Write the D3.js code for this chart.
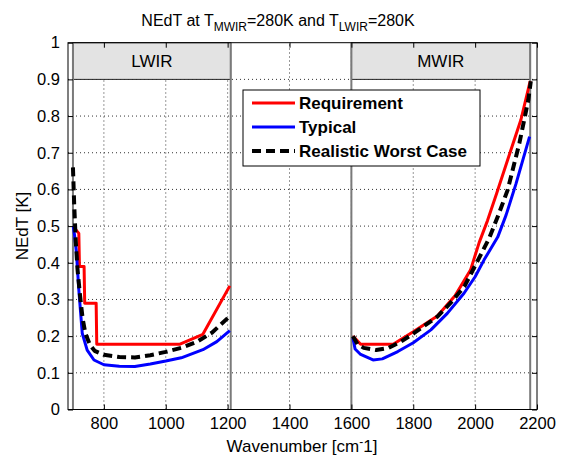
<!DOCTYPE html>
<html>
<head>
<script src="https://cdn.jsdelivr.net/npm/d3@7"></script>
<style>
body { margin: 0; background: #fff; }
text { font-family: Arial, "Liberation Sans", sans-serif; fill: #000; }
.grid line { stroke: #333; stroke-width: 1; stroke-dasharray: 1,3; }
</style>
</head>
<body>
<svg width="565" height="459"></svg>
<script>

// band limits (cm-1)
var bands = [
	{name: "LWIR", x0: 700, x1: 1210},
	{name: "MWIR", x0: 1600, x1: 2178}
];

var xTicks = [800, 1000, 1200, 1400, 1600, 1800, 2000, 2200];
var yTicks = [0, 0.1, 0.2, 0.3, 0.4, 0.5, 0.6, 0.7, 0.8, 0.9, 1];

// Requirement
var reqLW = [[700,0.50],[719,0.48],[721,0.39],[736,0.39],[738,0.29],[775,0.29],[777,0.178],[1046,0.178],[1120,0.205],[1207,0.337]];
var reqMW = [[1605,0.20],[1630,0.178],[1735,0.178],[1800,0.212],[1878,0.255],[1935,0.31],[1985,0.38],[2013,0.455],[2040,0.515],[2070,0.59],[2105,0.68],[2148,0.79],[2178,0.895]];

// Typical
var typLW = [[701,0.50],[706,0.47],[711,0.43],[719,0.326],[730,0.208],[746,0.162],[768,0.135],[800,0.122],[850,0.118],[900,0.117],[950,0.124],[1000,0.132],[1050,0.141],[1120,0.163],[1165,0.185],[1207,0.215]];
var typMW = [[1605,0.195],[1612,0.165],[1630,0.15],[1670,0.135],[1700,0.138],[1750,0.158],[1800,0.182],[1857,0.217],[1910,0.262],[1964,0.317],[2000,0.362],[2029,0.408],[2073,0.47],[2100,0.53],[2132,0.615],[2176,0.744]];

// Realistic Worst Case
var rwcLW = [[700,0.66],[704,0.56],[709,0.46],[715,0.38],[723,0.31],[731,0.25],[740,0.208],[755,0.176],[770,0.16],[800,0.149],[850,0.143],[900,0.142],[950,0.148],[1000,0.157],[1050,0.168],[1100,0.184],[1150,0.21],[1205,0.253]];
var rwcMW = [[1605,0.20],[1620,0.178],[1640,0.168],[1680,0.162],[1720,0.168],[1760,0.185],[1802,0.208],[1878,0.253],[1920,0.29],[1965,0.335],[2008,0.405],[2046,0.468],[2075,0.53],[2105,0.598],[2143,0.726],[2172,0.844],[2180,0.895]];

var series = [
	{name: "Requirement", color: "#ff0000", dash: null, width: 3, parts: [reqLW, reqMW]},
	{name: "Typical", color: "#0000ff", dash: null, width: 3, parts: [typLW, typMW]},
	{name: "Realistic Worst Case", color: "#000", dash: "9,5", width: 4, parts: [rwcLW, rwcMW]}
];

var svg = d3.select("svg");
var pLeft = 68, pRight = 537, pTop = 42.7, pBottom = 409.5;

var x = d3.scaleLinear().domain([684, 2200]).range([pLeft, pRight]);
var y = d3.scaleLinear().domain([0, 1]).range([pBottom, pTop]);

// grid
var grid = svg.append("g").attr("class", "grid");
grid.selectAll(".gx")
	.data(xTicks.filter(function(d) { return d < 2200; }))
	.enter().append("line")
	.attr("x1", function(d) { return x(d); })
	.attr("x2", function(d) { return x(d); })
	.attr("y1", pBottom).attr("y2", pTop);
grid.selectAll(".gy")
	.data(yTicks.filter(function(d) { return d > 0 && d < 1; }))
	.enter().append("line")
	.attr("x1", pLeft).attr("x2", pRight)
	.attr("y1", function(d) { return y(d); })
	.attr("y2", function(d) { return y(d); });

// band headers and edges
svg.selectAll(".band")
	.data(bands)
	.enter().append("rect")
	.attr("x", function(d) { return x(d.x0); })
	.attr("y", y(1))
	.attr("width", function(d) { return x(d.x1) - x(d.x0); })
	.attr("height", y(0.9) - y(1))
	.attr("fill", "#e3e3e3")
	.attr("stroke", "#222")
	.attr("stroke-width", 1);

svg.selectAll(".bandText")
	.data(bands)
	.enter().append("text")
	.attr("x", function(d) { return x((d.x0 + d.x1) / 2); })
	.attr("y", 67)
	.attr("text-anchor", "middle")
	.attr("font-size", "17px")
	.text(function(d) { return d.name; });

var edges = [];
bands.forEach(function(b) { edges.push(b.x0, b.x1); });
svg.selectAll(".edge")
	.data(edges)
	.enter().append("line")
	.attr("x1", function(d) { return x(d); })
	.attr("x2", function(d) { return x(d); })
	.attr("y1", pBottom).attr("y2", pTop)
	.attr("stroke", "#7a7a7a")
	.attr("stroke-width", 2);

// curves
var line = d3.line()
	.x(function(d) { return x(d[0]); })
	.y(function(d) { return y(d[1]); });

series.forEach(function(s) {
	s.parts.forEach(function(p) {
		svg.append("path")
			.attr("d", line(p))
			.attr("fill", "none")
			.attr("stroke", s.color)
			.attr("stroke-width", s.width)
			.attr("stroke-dasharray", s.dash)
			.attr("stroke-linejoin", "round");
	});
});

// axes box
svg.append("rect")
	.attr("x", pLeft).attr("y", pTop)
	.attr("width", pRight - pLeft).attr("height", pBottom - pTop)
	.attr("fill", "none").attr("stroke", "#000").attr("stroke-width", 1);

svg.append("g").attr("transform", "translate(0," + pBottom + ")")
	.call(d3.axisBottom(x).tickValues(xTicks).tickSizeInner(-5).tickSizeOuter(0).tickPadding(8)
		.tickFormat(d3.format("d")));
svg.append("g").attr("transform", "translate(" + pLeft + ",0)")
	.call(d3.axisLeft(y).tickValues(yTicks).tickSizeInner(-5).tickSizeOuter(0).tickPadding(8)
		.tickFormat(function(d) { return d === 0 || d === 1 ? d : d.toFixed(1); }));
svg.append("g").attr("transform", "translate(" + pRight + ",0)")
	.call(d3.axisRight(y).tickValues(yTicks).tickSizeInner(-5).tickSizeOuter(0).tickFormat(""));
svg.append("g").attr("transform", "translate(0," + pTop + ")")
	.call(d3.axisTop(x).tickValues(xTicks).tickSizeInner(-5).tickSizeOuter(0).tickFormat(""));

svg.selectAll(".domain").remove();
svg.selectAll(".tick text")
	.attr("font-family", "Arial, 'Liberation Sans', sans-serif")
	.attr("font-size", "16.5px")
	.attr("fill", "#000");

// legend
var lg = svg.append("g").attr("transform", "translate(243,90)");
lg.append("rect")
	.attr("width", 237).attr("height", 76)
	.attr("fill", "#fff").attr("stroke", "#000").attr("stroke-width", 1);
var item = lg.selectAll(".item")
	.data(series)
	.enter().append("g")
	.attr("transform", function(d, i) { return "translate(0," + (13 + i * 24) + ")"; });
item.append("line")
	.attr("x1", 9).attr("x2", 52)
	.attr("stroke", function(d) { return d.color; })
	.attr("stroke-width", function(d) { return d.width; })
	.attr("stroke-dasharray", function(d) { return d.dash; });
item.append("text")
	.attr("x", 56).attr("y", 6)
	.attr("font-size", "17px")
	.attr("font-weight", "bold")
	.text(function(d) { return d.name; });

// title
var title = svg.append("text")
	.attr("x", 278).attr("y", 26)
	.attr("text-anchor", "middle")
	.attr("font-size", "16px");
title.append("tspan").text("NEdT at T");
title.append("tspan").attr("dy", 5).attr("font-size", "12px").text("MWIR");
title.append("tspan").attr("dy", -5).text("=280K and T");
title.append("tspan").attr("dy", 5).attr("font-size", "12px").text("LWIR");
title.append("tspan").attr("dy", -5).text("=280K");

// axis labels
svg.append("text")
	.attr("transform", "translate(28,226) rotate(-90)")
	.attr("text-anchor", "middle")
	.attr("font-size", "17px")
	.text("NEdT [K]");

var xl = svg.append("text")
	.attr("x", 302).attr("y", 452)
	.attr("text-anchor", "middle")
	.attr("font-size", "17px");
xl.append("tspan").text("Wavenumber [cm");
xl.append("tspan").attr("dy", -6).attr("font-size", "12px").text("-");
xl.append("tspan").attr("dy", 6).text("1]");

</script>
</body>
</html>
